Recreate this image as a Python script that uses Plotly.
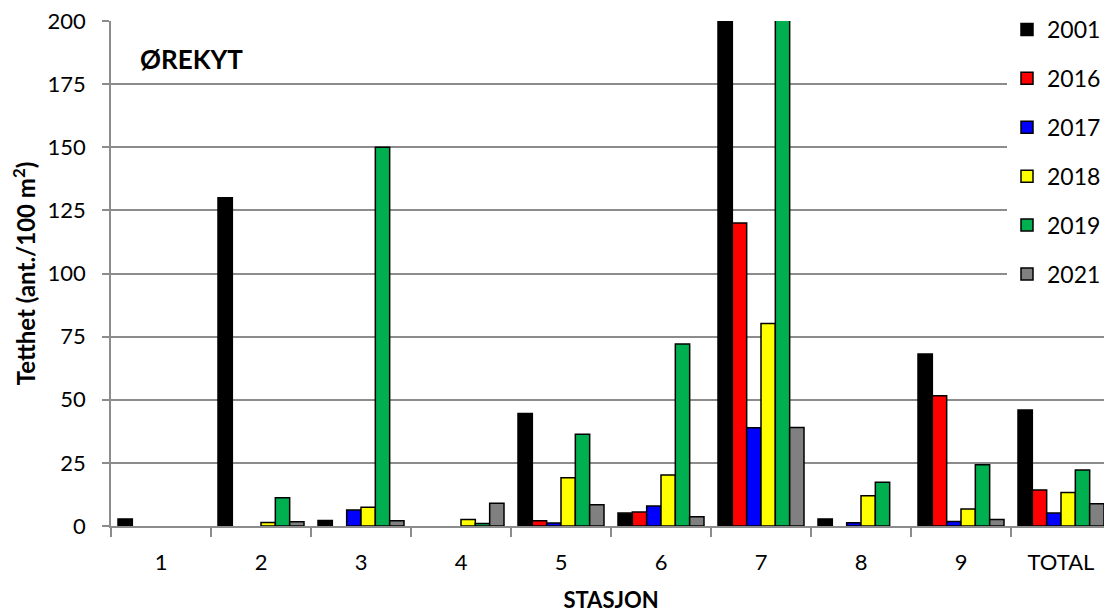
import plotly.graph_objects as go

stations = ["1", "2", "3", "4", "5", "6", "7", "8", "9", "TOTAL"]
years = ["2001", "2016", "2017", "2018", "2019", "2021"]
v2001 = [2.8, 130, 2.2, None, 44.6, 5.1, 245, 2.8, 68.1, 45.9]
v2016 = [None, None, None, None, 2.1, 5.5, 120, None, 51.6, 14.3]
v2017 = [None, None, 6.3, None, 1.2, 7.9, 38.9, 1.3, 1.8, 5.1]
v2018 = [None, 1.4, 7.4, 2.6, 19.1, 20.2, 80.2, 12.0, 6.7, 13.3]
v2019 = [None, 11.2, 150, 1.0, 36.3, 72.1, 240, 17.3, 24.3, 22.2]
v2021 = [None, 1.7, 2.1, 9.0, 8.4, 3.7, 39.0, None, 2.6, 8.8]
series = [v2001, v2016, v2017, v2018, v2019, v2021]
colors = ["#000000", "#FF0000", "#0000FF", "#FFFF00", "#00B050", "#808080"]

FONT = "Lato, Open Sans, sans-serif"
GRID = "#8C8C8C"

fig = go.Figure()
for yr, vals, col in zip(years, series, colors):
    fig.add_trace(go.Bar(
        x=stations, y=vals, name=yr, legendgroup=yr,
        marker=dict(color=col, line=dict(color="#000000", width=1.5)),
    ))

fig.update_layout(
    width=1104, height=605,
    margin=dict(l=103, r=1, t=13, b=87, autoexpand=False),
    paper_bgcolor="white", plot_bgcolor="white",
    barmode="group", bargap=0.14, bargroupgap=0,
    font=dict(family=FONT, size=22, color="#000000"),
    showlegend=True,
    legend=dict(
        x=0.896, y=1.01, xanchor="left", yanchor="top", yref="container",
        bgcolor="white", borderwidth=0,
        font=dict(family=FONT, size=23, color="#000000"),
        tracegroupgap=16, traceorder="grouped",
    ),
    xaxis=dict(
        type="category", showgrid=False,
        showline=True, linecolor=GRID, linewidth=1.5,
        ticks="outside", tickson="boundaries", ticklen=9,
        tickcolor=GRID, tickwidth=1.5,
        ticklabelstandoff=16, ticklabeloverflow="allow",
        tickfont=dict(family=FONT, size=22),
        title=dict(text="<b>STASJON</b>", font=dict(family=FONT, size=22), standoff=18),
    ),
    yaxis=dict(
        range=[0, 200], dtick=25, tick0=0,
        showgrid=True, gridcolor=GRID, gridwidth=1.5,
        showline=True, linecolor=GRID, linewidth=1.5,
        ticks="outside", ticklen=7, tickcolor=GRID, tickwidth=1.5,
        ticklabelstandoff=12, ticklabeloverflow="allow",
        zeroline=False,
        tickfont=dict(family=FONT, size=22),
        title=dict(text="<b>Tetthet (ant./100 m<sup>2</sup>)</b>",
                   font=dict(family=FONT, size=24), standoff=7),
    ),
    annotations=[dict(
        text="<b>ØREKYT</b>", x=0.027, y=0.925, xref="paper", yref="paper",
        xanchor="left", yanchor="middle", showarrow=False,
        font=dict(family=FONT, size=26, color="#000000"),
    )],
)

fig.write_html("out.html")
